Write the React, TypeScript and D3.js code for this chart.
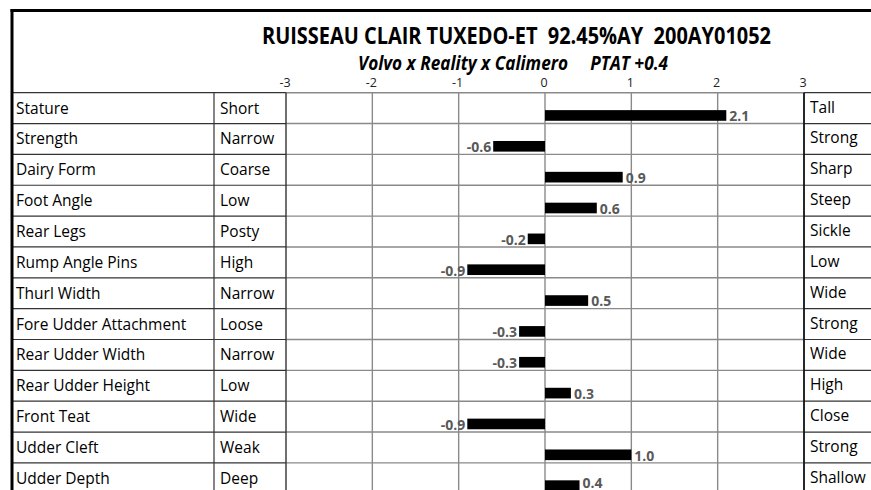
import React from 'react';
import * as d3 from 'd3';

const traits = [
    'Stature', 'Strength', 'Dairy Form', 'Foot Angle', 'Rear Legs', 'Rump Angle Pins',
    'Thurl Width', 'Fore Udder Attachment', 'Rear Udder Width', 'Rear Udder Height',
    'Front Teat', 'Udder Cleft', 'Udder Depth'
];
const lowLabels = [
    'Short', 'Narrow', 'Coarse', 'Low', 'Posty', 'High', 'Narrow', 'Loose', 'Narrow',
    'Low', 'Wide', 'Weak', 'Deep'
];
const highLabels = [
    'Tall', 'Strong', 'Sharp', 'Steep', 'Sickle', 'Low', 'Wide', 'Strong', 'Wide',
    'High', 'Close', 'Strong', 'Shallow'
];
const values = [2.1, -0.6, 0.9, 0.6, -0.2, -0.9, 0.5, -0.3, -0.3, 0.3, -0.9, 1.0, 0.4];
const ticks = [-3, -2, -1, 0, 1, 2, 3];

const title = 'RUISSEAU CLAIR TUXEDO-ET  92.45%AY  200AY01052';
const subtitle = 'Volvo x Reality x Calimero     PTAT +0.4';

const W = 871;
const H = 490;
const FONT = '"Open Sans", Lato, sans-serif';

const App = () => {
    const tableTop = 92.7;
    const rowH = 30.85;

    // columns
    const colLeft = 12;
    const colMid = 214;
    const chartLeft = 286;
    const chartRight = 804;

    const x = d3.scaleLinear().domain([-3, 3]).range([chartLeft, chartRight]);
    const y = d3.scaleBand<string>()
        .domain(traits)
        .range([tableTop, tableTop + rowH * traits.length])
        .padding(0);
    // excel style labels: plain hyphen for negatives
    const fmt = (v: number) => d3.format('.1f')(v).replace('\u2212', '-');

    const rowLines = d3.range(traits.length + 1).map(i => tableTop + i * rowH);

    return (
        <svg width={W} height={H} style={{ position: 'absolute', left: 0, top: 0, background: '#fff' }}
            fontFamily={FONT}>
            <rect x={0} y={0} width={W} height={H} fill="#fff" />

            {/* header texts */}
            <text x={516.5} y={44} textAnchor="middle" fontSize={24} fontWeight="bold" fill="#000"
                textLength={509} lengthAdjust="spacingAndGlyphs"
                style={{ whiteSpace: 'pre' }}>{title}</text>
            <text x={513} y={69.5} textAnchor="middle" fontSize={19} fontWeight="bold" fontStyle="italic" fill="#000"
                textLength={310} lengthAdjust="spacingAndGlyphs"
                style={{ whiteSpace: 'pre' }}>{subtitle}</text>

            {/* tick labels */}
            {ticks.map(t => (
                <text key={t} x={x(t) - 1} y={87} textAnchor="middle" fontSize={12.5} fill="#222">{t}</text>
            ))}

            {/* chart gridlines */}
            {ticks.slice(1, -1).map(t => (
                <line key={t} x1={x(t)} x2={x(t)} y1={tableTop} y2={H} stroke="#8a8a8a" strokeWidth={1.4} />
            ))}
            {rowLines.map((ly, i) => (
                <line key={'g' + i} x1={chartLeft} x2={chartRight} y1={ly} y2={ly} stroke="#8a8a8a" strokeWidth={1.4} />
            ))}

            {/* table lines */}
            {rowLines.map((ly, i) => (
                <g key={'t' + i}>
                    <line x1={colLeft} x2={chartLeft} y1={ly} y2={ly} stroke="#333" strokeWidth={1.2} />
                    <line x1={chartRight} x2={W} y1={ly} y2={ly} stroke="#333" strokeWidth={1.2} />
                </g>
            ))}
            <line x1={colMid} x2={colMid} y1={tableTop} y2={H} stroke="#333" strokeWidth={1.2} />
            <line x1={chartLeft} x2={chartLeft} y1={tableTop} y2={H} stroke="#333" strokeWidth={1.4} />
            <line x1={chartRight} x2={chartRight} y1={tableTop} y2={H} stroke="#111" strokeWidth={1.8} />

            {/* outer frame */}
            <line x1={colLeft - 1.5} x2={W} y1={10.5} y2={10.5} stroke="#000" strokeWidth={3} />
            <line x1={colLeft} x2={colLeft} y1={9} y2={H} stroke="#000" strokeWidth={3} />

            {/* row texts */}
            {traits.map((t, i) => {
                const cy = (y(t) as number) + rowH / 2;
                return (
                    <g key={t} fontSize={15.5} fill="#000">
                        <text x={16} y={cy} dy="0.35em">{t}</text>
                        <text x={220} y={cy} dy="0.35em">{lowLabels[i]}</text>
                        <text x={810} y={cy - 1} dy="0.35em">{highLabels[i]}</text>
                    </g>
                );
            })}

            {/* bars */}
            {values.map((v, i) => {
                const by = (y(traits[i]) as number) + rowH * 0.565;
                const bh = rowH * 0.345;
                return (
                    <rect key={'b' + i} x={Math.min(x(0), x(v))} y={by}
                        width={Math.abs(x(v) - x(0))} height={bh} fill="#000" />
                );
            })}

            {/* value labels */}
            {values.map((v, i) => {
                const cy = (y(traits[i]) as number) + rowH * 0.565 + rowH * 0.345 / 2 + 1;
                return (
                    <text key={'l' + i} x={v >= 0 ? x(v) + 3 : x(v) - 2} y={Math.min(cy, H - 7)} dy="0.35em"
                        textAnchor={v >= 0 ? 'start' : 'end'} fontSize={14} fontWeight="bold" fill="#595959">
                        {fmt(v)}
                    </text>
                );
            })}
        </svg>
    );
};

export default App;
